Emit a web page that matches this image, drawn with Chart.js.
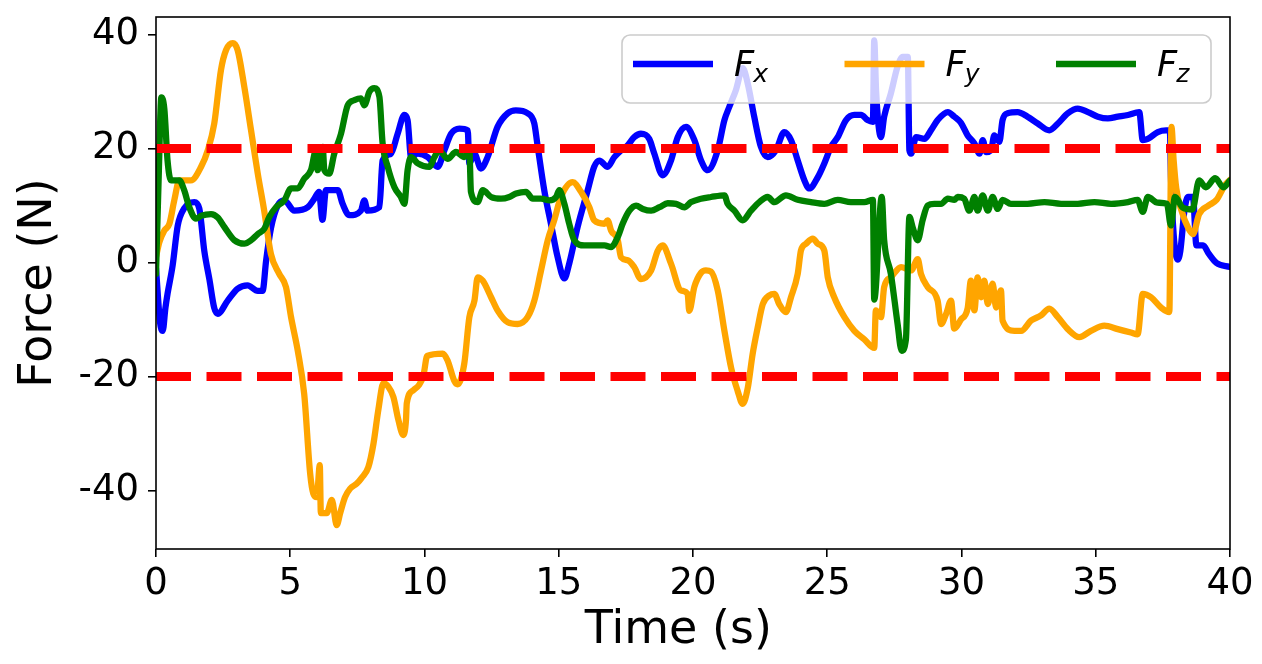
<!DOCTYPE html>
<html>
<head>
<meta charset="utf-8">
<title>Force over time</title>
<script src="https://cdn.jsdelivr.net/npm/chart.js@4.4.1/dist/chart.umd.min.js"></script>
<style>
    body { margin: 0; background: #fff; }
    #forceChart { display: block; }
</style>
</head>
<body>
<canvas id="forceChart" width="1262" height="664"></canvas>
<script>
// Series (time in s, force in N)
const fxTime = [0, 0.15, 0.25, 0.35, 0.43, 0.62, 0.81, 1.05, 1.43, 1.61, 1.8, 1.99, 2.17, 2.3, 2.67, 3.04, 3.41, 3.79, 3.97, 4.1, 4.28, 4.53, 4.78, 5.15, 5.65, 5.9, 6.07, 6.2, 6.33, 6.77, 6.95, 7.2, 7.63, 7.76, 7.88, 8.32, 8.44, 8.75, 9.0, 9.25, 9.37, 9.5, 9.75, 10.12, 10.49, 10.74, 10.99, 11.3, 11.61, 11.67, 11.86, 12.1, 12.35, 12.72, 13.1, 13.4, 13.84, 14.09, 14.2, 14.46, 14.71, 14.96, 15.21, 15.39, 15.7, 16.08, 16.32, 16.51, 16.82, 17.07, 17.32, 17.57, 17.81, 18.06, 18.37, 18.56, 18.87, 19.18, 19.43, 19.74, 20.05, 20.3, 20.55, 20.92, 21.17, 21.35, 21.6, 21.85, 22.04, 22.28, 22.53, 22.78, 23.09, 23.4, 23.65, 23.9, 24.15, 24.33, 24.65, 24.89, 25.14, 25.39, 25.7, 26.01, 26.26, 26.5, 26.7, 26.75, 26.82, 27.0, 27.12, 27.37, 27.62, 27.81, 28.0, 28.06, 28.12, 28.31, 28.62, 28.86, 29.11, 29.49, 29.73, 29.98, 30.23, 30.48, 30.67, 30.79, 30.92, 31.1, 31.22, 31.41, 31.53, 31.72, 32.09, 32.46, 32.84, 33.27, 33.59, 33.96, 34.33, 34.71, 35.08, 35.45, 35.82, 36.2, 36.62, 36.75, 36.94, 37.31, 37.62, 37.76, 37.8, 37.9, 38.05, 38.15, 38.3, 38.43, 38.62, 38.75, 39.0, 39.2, 39.5, 40];
const fxForce = [-1, -10.5, -12, -8, -5.5, -0.5, 6.5, 9.5, 10.6, 9.5, 2, -3, -8, -9, -6.7, -4.6, -4, -5, -5, 0.3, 6, 10, 10.9, 9.1, 9.7, 11.2, 12.4, 7.5, 12.7, 12.7, 10.3, 8.3, 9.1, 10.9, 9.1, 9.7, 17.9, 19.1, 22.6, 25.9, 25, 18.5, 19.1, 18.5, 16.8, 19.7, 22.6, 23.5, 23.2, 17.4, 19.1, 16.5, 18.5, 23.8, 26.2, 26.7, 26.2, 24.4, 20.9, 12.7, 6.8, 0.9, -2.8, -0.2, 6.2, 12.7, 16.8, 17.9, 16.8, 18.5, 19.7, 20.6, 22, 22.6, 21.7, 19.1, 15.3, 17.9, 22, 23.8, 21.5, 17.9, 16.2, 19.7, 25, 27.3, 30.3, 34.1, 31.4, 25.6, 20.3, 18.5, 19.7, 22.9, 21.5, 17.9, 14.4, 13, 15, 17.4, 20.3, 22, 25, 25.9, 25.9, 25, 24.7, 39, 30, 22, 25.6, 29.7, 34.4, 36.1, 36.1, 19.7, 19.1, 22, 21.7, 23.2, 25, 26.4, 25.6, 24.5, 22.3, 20.9, 19.1, 21.5, 19.4, 19.7, 22.3, 21.2, 25, 26.2, 26.4, 25.6, 24.4, 23.2, 24.4, 26.2, 27, 26.4, 25.6, 25.3, 25.6, 25.9, 26.4, 21.5, 21.7, 22.9, 23.2, 23.2, 15, 5, 0.5, 2, 9, 11.5, 11.5, 3, 3, 1.6, -0.1, -0.8];

const fyTime = [0, 0.12, 0.31, 0.5, 0.68, 0.87, 1.3, 1.68, 1.93, 2.17, 2.42, 2.61, 2.86, 3.04, 3.29, 3.54, 3.79, 4.03, 4.28, 4.59, 4.84, 5.03, 5.28, 5.52, 5.74, 5.86, 5.99, 6.1, 6.14, 6.36, 6.55, 6.73, 6.86, 7.04, 7.23, 7.48, 7.66, 7.91, 8.1, 8.28, 8.47, 8.65, 8.84, 9.03, 9.21, 9.31, 9.34, 9.59, 9.96, 10.1, 10.68, 10.86, 11.11, 11.23, 11.48, 11.67, 11.86, 11.98, 12.17, 12.48, 12.72, 13.1, 13.47, 13.84, 14.09, 14.34, 14.59, 14.83, 15.08, 15.52, 15.83, 16.14, 16.32, 16.7, 16.82, 16.95, 17.2, 17.32, 17.57, 17.81, 18.06, 18.44, 18.69, 18.87, 19.18, 19.55, 19.8, 19.86, 20.05, 20.3, 20.48, 20.67, 20.92, 21.17, 21.42, 21.66, 21.85, 22.04, 22.22, 22.41, 22.6, 22.84, 23.03, 23.21, 23.46, 23.65, 23.9, 24.02, 24.21, 24.46, 24.65, 24.89, 25.02, 25.26, 25.64, 26.01, 26.38, 26.75, 26.81, 27.0, 27.12, 27.37, 27.75, 28.12, 28.37, 28.49, 28.74, 29.11, 29.24, 29.43, 29.61, 29.73, 29.98, 30.23, 30.35, 30.48, 30.6, 30.73, 30.85, 30.98, 31.16, 31.29, 31.47, 31.53, 31.97, 32.22, 32.59, 32.96, 33.27, 33.59, 33.96, 34.39, 34.82, 35.32, 35.82, 36.31, 36.56, 36.75, 37.06, 37.43, 37.74, 37.82, 37.9, 38.0, 38.2, 38.45, 38.62, 38.85, 39.2, 39.5, 39.8, 40];
const fyForce = [1, 3.5, 5.6, 6.8, 10.9, 14.4, 14.4, 16.8, 19.7, 24.4, 33.8, 37.3, 38.5, 37.3, 30.8, 23.2, 15.6, 9.1, 1.5, -2, -4.3, -9.6, -15.5, -23.1, -37, -40.6, -41.2, -35.6, -44, -44, -41.7, -46.1, -44, -41.2, -39.7, -38.8, -37.8, -35.9, -31.8, -25.9, -21.2, -21.8, -23.6, -27.7, -30.3, -27.7, -24.7, -22.4, -19.8, -16.4, -16, -17.2, -20.8, -21.4, -17.8, -9.6, -6.7, -2.6, -3.2, -6.1, -8.4, -10.5, -10.8, -9.6, -6.7, -1.4, 3.9, 7.4, 11.5, 14.1, 12.4, 9.7, 7.4, 6.8, 7.4, 5.6, 3.9, 0.9, 0.4, -0.8, -2.9, -1.4, 2.1, 3, -0.2, -4.9, -5.5, -8.5, -4.3, -1.8, -1.4, -1.6, -4.9, -12, -18.5, -22.5, -24.8, -22, -16.1, -11.4, -7.3, -5.8, -5.5, -7.3, -8.7, -6.1, -2, 2.1, 3.3, 4.2, 3.3, 2.1, -2.6, -6.1, -9.6, -12, -13.5, -15, -8.4, -9.6, -4.3, -2.6, -0.8, -1.4, 0.6, -2, -4.3, -6.7, -10.8, -9, -6.7, -11.6, -10, -8, -3.2, -8.4, -2.6, -6.1, -3.2, -7.3, -3.7, -7.9, -4.9, -10.2, -12, -12, -10.2, -9.3, -8.1, -9.6, -11.7, -13.1, -12, -11.1, -11.7, -12.3, -12.6, -5.5, -6.1, -7.9, -8.7, 23.8, 18, 13, 9, 6, 5, 8.5, 10, 11, 13.5, 14.5];

const fzTime = [0, 0.1, 0.2, 0.31, 0.43, 0.56, 0.87, 1.05, 1.24, 1.49, 1.68, 2.05, 2.3, 2.55, 2.92, 3.29, 3.54, 3.79, 4.03, 4.22, 4.47, 4.78, 5.03, 5.28, 5.52, 5.77, 5.96, 6.02, 6.21, 6.27, 6.45, 6.64, 6.89, 7.14, 7.39, 7.63, 7.76, 7.95, 8.13, 8.32, 8.44, 8.63, 8.88, 9.12, 9.25, 9.37, 9.5, 9.75, 10.18, 10.37, 10.55, 10.86, 11.17, 11.48, 11.67, 11.73, 11.98, 12.17, 12.48, 12.85, 13.16, 13.41, 13.78, 14.03, 14.34, 14.65, 14.9, 15.02, 15.21, 15.39, 15.58, 15.95, 16.32, 16.7, 16.95, 17.2, 17.38, 17.63, 17.88, 18.13, 18.44, 18.75, 19.06, 19.37, 19.68, 19.93, 20.3, 20.67, 21.17, 21.29, 21.54, 21.85, 22.16, 22.47, 22.78, 23.03, 23.46, 23.9, 24.39, 24.89, 25.39, 25.88, 26.38, 26.7, 26.75, 27.03, 27.12, 27.37, 27.62, 27.77, 27.93, 28.06, 28.18, 28.37, 28.55, 28.74, 28.99, 29.24, 29.49, 29.73, 29.86, 30.1, 30.29, 30.48, 30.6, 30.79, 30.98, 31.16, 31.35, 31.53, 31.84, 32.46, 33.09, 33.71, 34.33, 34.95, 35.57, 36.2, 36.56, 36.75, 36.94, 37.3, 37.65, 37.8, 37.95, 38.25, 38.6, 38.85, 39.1, 39.45, 39.75, 40];
const fzForce = [-2, 15, 29, 27, 17.9, 14.4, 14.4, 12.7, 9.7, 7.7, 8.2, 8.5, 7.9, 6.2, 3.9, 3.3, 3.9, 5, 5.9, 8, 9.7, 10.9, 13, 13, 14.7, 16.2, 19.7, 16.2, 20.3, 16.2, 15.6, 19.1, 22.6, 27.6, 28.5, 28.8, 27.6, 30, 30.6, 29.1, 20.9, 16.8, 13.2, 11.5, 10.3, 16.2, 18.5, 17.4, 16.8, 18.5, 19.7, 18.2, 19.4, 18.5, 19.7, 12.4, 10.6, 12.7, 11.5, 11.2, 11.5, 12.1, 12.4, 11.2, 11.2, 10.9, 11.5, 12.7, 10.3, 6.8, 3.9, 3, 3, 3, 2.7, 4.5, 6.8, 9.1, 10, 9.4, 9.1, 9.7, 10.4, 10.3, 9.7, 10.6, 11.2, 11.5, 11.8, 10.3, 9.1, 7.4, 9.1, 10.6, 11.5, 10.6, 11.8, 11, 10.6, 10.3, 11, 10.6, 10.6, 11, -6.5, 11.5, 3.9, -2, -10.8, -15.5, -13.5, 8, 6.2, 3.9, 7.4, 10, 10.3, 10.3, 11.2, 11, 11.5, 11.2, 9.1, 11.5, 9.1, 11.8, 9.1, 11.5, 9.4, 11, 10.3, 10.3, 10.6, 10.3, 10.3, 10.6, 10.3, 10.6, 11, 8.9, 11.5, 10.5, 10.3, 6.5, 11.5, 9.6, 9.3, 14.4, 13.2, 14.8, 13.2, 14.4];

const seriesSubs = ['x', 'y', 'z'];
const seriesColors = ['#0000ff', '#ffa500', '#008000'];
const limitLines = [20, -20];
const timeRange = [0, 40];
const xTicks = [0, 5, 10, 15, 20, 25, 30, 35, 40];
const yTicks = [-40, -20, 0, 20, 40];

const tickFont = { family: 'DejaVu Sans', size: 37 };
const titleFont = { family: 'DejaVu Sans', size: 46 };

function toPoints(times, values) {
    return times.map((t, i) => ({ x: t, y: values[i] }));
}

// matplotlib-like frame around the plot area
const framePlugin = {
    id: 'frame',
    afterDatasetsDraw(chart) {
        const { ctx, chartArea: a } = chart;
        ctx.save();
        ctx.strokeStyle = '#000';
        ctx.lineWidth = 1.6;
        ctx.strokeRect(a.left, a.top, a.right - a.left, a.bottom - a.top);
        ctx.restore();
    }
};

// Legend box inside the plot, top right, with F_x / F_y / F_z
const legendPlugin = {
    id: 'mplLegend',
    afterDraw(chart) {
        const ctx = chart.ctx;
        const box = { x: 622, y: 35, w: 589, h: 68 };
        ctx.save();
        ctx.beginPath();
        ctx.roundRect(box.x, box.y, box.w, box.h, 8);
        ctx.fillStyle = 'rgba(255,255,255,0.8)';
        ctx.fill();
        ctx.strokeStyle = '#cccccc';
        ctx.lineWidth = 1.6;
        ctx.stroke();

        const lineY = 64;
        seriesSubs.forEach((sub, i) => {
            const x0 = 633 + i * 211.5;
            ctx.beginPath();
            ctx.moveTo(x0, lineY);
            ctx.lineTo(x0 + 80, lineY);
            ctx.strokeStyle = seriesColors[i];
            ctx.lineWidth = 6.3;
            ctx.stroke();

            ctx.fillStyle = '#000';
            ctx.textBaseline = 'alphabetic';
            ctx.textAlign = 'left';
            ctx.font = 'italic 35px "DejaVu Sans"';
            const tx = x0 + 101;
            ctx.fillText('F', tx, 76);
            const fw = ctx.measureText('F').width;
            ctx.font = 'italic 25px "DejaVu Sans"';
            ctx.fillText(sub, tx + fw - 1, 82);
        });
        ctx.restore();
    }
};

function createForceChart() {
    const ctx = document.getElementById('forceChart').getContext('2d');

    const lineSets = [
        [fxTime, fxForce],
        [fyTime, fyForce],
        [fzTime, fzForce]
    ].map(([t, v], i) => ({
        label: 'F' + seriesSubs[i],
        data: toPoints(t, v),
        borderColor: seriesColors[i],
        borderWidth: 6.3,
        borderJoinStyle: 'round',
        borderCapStyle: 'round',
        cubicInterpolationMode: 'monotone',
        pointRadius: 0,
        clip: 0,
        order: 3 - i
    }));

    const limitSets = limitLines.map(v => ({
        label: 'limit ' + v,
        data: timeRange.map(t => ({ x: t, y: v })),
        borderColor: '#ff0000',
        borderWidth: 9,
        borderDash: [35, 15.5],
        pointRadius: 0,
        clip: 0,
        order: 0
    }));

    new Chart(ctx, {
        type: 'line',
        data: { datasets: lineSets.concat(limitSets) },
        options: {
            responsive: false,
            animation: false,
            layout: { padding: { left: 0, top: 17, right: 32, bottom: 0 } },
            plugins: {
                legend: { display: false },
                tooltip: { enabled: false }
            },
            scales: {
                x: {
                    type: 'linear',
                    min: timeRange[0],
                    max: timeRange[1],
                    afterBuildTicks: s => { s.ticks = xTicks.map(v => ({ value: v })); },
                    afterFit: s => {
                        s.height = 115;
                        s.paddingLeft = 0; s.paddingRight = 0;
                    },
                    ticks: {
                        color: '#000',
                        font: tickFont,
                        padding: 5,
                        maxRotation: 0,
                        autoSkip: false
                    },
                    grid: {
                        drawOnChartArea: false,
                        tickLength: 8,
                        color: '#000',
                        lineWidth: 1.6
                    },
                    border: { display: false },
                    title: {
                        display: true,
                        text: 'Time (s)  ',
                        color: '#000',
                        font: titleFont,
                        padding: { top: 0, bottom: 5 }
                    }
                },
                y: {
                    min: -50.3,
                    max: 43.1,
                    afterBuildTicks: s => { s.ticks = yTicks.map(v => ({ value: v })); },
                    afterFit: s => {
                        s.width = 156;
                        s.paddingTop = 0; s.paddingBottom = 0;
                    },
                    ticks: {
                        color: '#000',
                        font: tickFont,
                        padding: 9,
                        autoSkip: false,
                        callback: v => String(v)
                    },
                    grid: {
                        drawOnChartArea: false,
                        tickLength: 8,
                        color: '#000',
                        lineWidth: 1.6
                    },
                    border: { display: false },
                    title: {
                        display: true,
                        text: 'Force (N)',
                        color: '#000',
                        font: titleFont,
                        padding: { top: 11, bottom: 0 }
                    }
                }
            }
        },
        plugins: [framePlugin, legendPlugin]
    });
}

document.addEventListener('DOMContentLoaded', () => {
    createForceChart();
});
</script>
</body>
</html>
